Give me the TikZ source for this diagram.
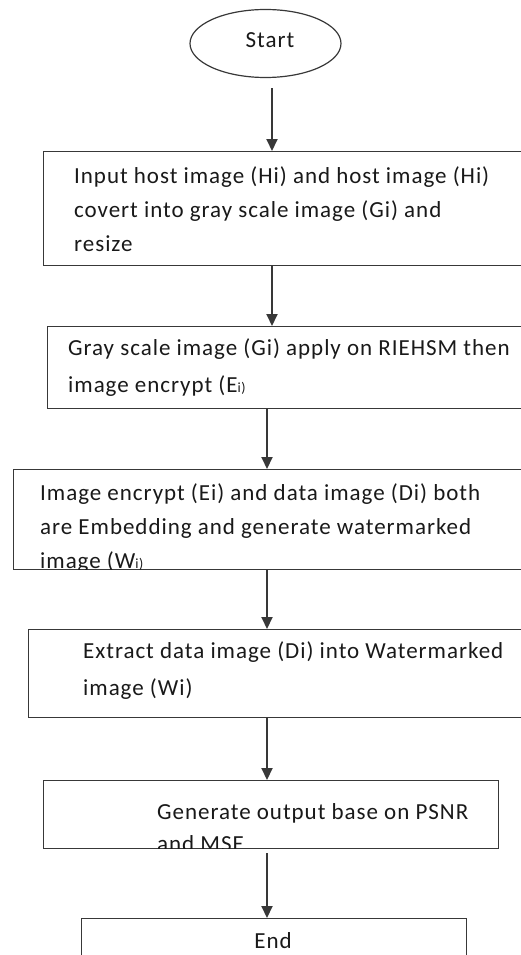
\documentclass[tikz,border=0pt]{standalone}
\usepackage{fontspec}
\setmainfont{Carlito}[LetterSpace=4.2]
\usetikzlibrary{arrows.meta,shapes.geometric}
\newcommand{\lowidx}[1]{{\fontsize{14}{14}\selectfont #1}}
\begin{document}
\begin{tikzpicture}[x=1pt,y=-1pt,
   box/.style={draw=black!78, line width=1.3pt, rectangle, inner sep=0pt, anchor=north west},
   txt/.style={anchor=base west, align=left, inner sep=0pt, text=black!90},
   arr/.style={draw=black!78, line width=2pt, -{Triangle[length=12pt,width=11pt]}}]
   \useasboundingbox (0,0) rectangle (520,955);
   \coordinate (upper) at (272,0);
   \coordinate (lower) at (267,0);
   % terminal and process boxes
   \node[draw=black!78, line width=1.2pt, ellipse, minimum width=151pt, minimum height=68pt, inner sep=0pt] (start) at (265.5,43.5) {};
   \node[box, minimum width=487pt, minimum height=114pt] (input) at (43,151) {};
   \node[box, minimum width=483pt, minimum height=82pt] (encrypt) at (47,326) {};
   \node[box, minimum width=517pt, minimum height=100pt] (embed) at (13,469) {};
   \node[box, minimum width=502pt, minimum height=88pt] (extract) at (28,629) {};
   \node[box, minimum width=455pt, minimum height=68pt] (output) at (43,780) {};
   \node[box, minimum width=385pt, minimum height=70pt] (end) at (81,918) {};
   % texts (anchored at the baseline of the last line)
   \node[txt, anchor=base, font=\fontsize{23}{23}\selectfont] (starttxt) at (270,48) {Start};
   \node[txt, font=\fontsize{23}{34}\selectfont] (inputtxt) at (74,251)
      {Input host image (Hi) and host image (Hi)\\covert into gray scale image (Gi) and\\resize};
   \node[txt, font=\fontsize{23}{37}\selectfont] (encrypttxt) at (68,392)
      {Gray scale image (Gi) apply on RIEHSM then\\image encrypt (E\lowidx{i)}};
   \begin{scope}
      \clip (13,469) rectangle (530,569);
      \node[txt, font=\fontsize{23}{34}\selectfont] (embedtxt) at (40,568)
         {Image encrypt (Ei) and data image (Di) both\\are Embedding and generate watermarked\\image (W\lowidx{i)}};
   \end{scope}
   \node[txt, font=\fontsize{23}{37}\selectfont] (extracttxt) at (83,695)
      {Extract data image (Di) into Watermarked\\image (Wi)};
   \begin{scope}
      \clip (43,780) rectangle (498,848);
      \node[txt, font=\fontsize{23}{32}\selectfont] (outputtxt) at (157,851)
         {Generate output base on PSNR\\and MSE};
   \end{scope}
   \node[txt, anchor=base, font=\fontsize{23}{23}\selectfont] (endtxt) at (273,948) {End};
   % flow
   \draw[arr, shorten <=10pt] (start.south -| upper) -- (input.north -| upper);
   \draw[arr] (input.south -| upper) -- (encrypt.north -| upper);
   \draw[arr] (encrypt.south -| lower) -- (embed.north -| lower);
   \draw[arr] (embed.south -| lower) -- (extract.north -| lower);
   \draw[arr] (extract.south -| lower) -- (output.north -| lower);
   \draw[arr, shorten <=4pt] (output.south -| lower) -- (end.north -| lower);
\end{tikzpicture}
\end{document}
